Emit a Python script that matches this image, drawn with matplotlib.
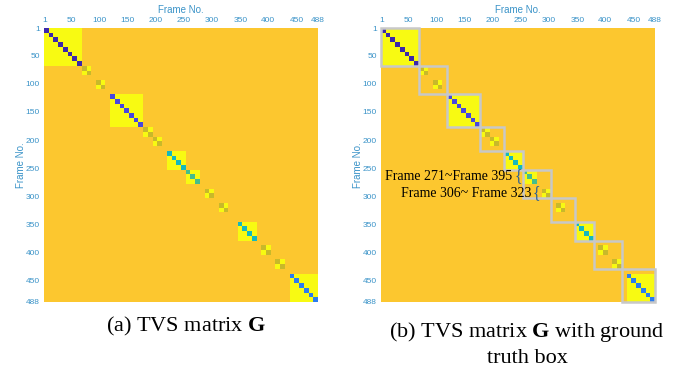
import numpy as np
import matplotlib
matplotlib.use("Agg")
import matplotlib.pyplot as plt
from matplotlib.colors import LinearSegmentedColormap
from matplotlib.patches import Rectangle

# TVS matrix, described in shot units (58 shots over 488 frames)
n_frames = 488
n_shots = 58

# blocks of similar shots: first shot, number of shots, value on the diagonal
block_start = [0, 14, 26, 30, 41, 52]
block_len = [8, 7, 4, 3, 4, 6]
block_diag = [0.0, 0.1, 0.45, 0.55, 0.45, 0.25]

# 2x2 checker blocks
checker_start = [8, 11, 21, 23, 34, 37, 46, 49]
checker_diag = 0.75

background = 0.87
offdiag = 1.0

# ground truth boxes, edges in shot units
gt_edges = [0, 8, 14, 21, 26, 30, 36, 41, 45, 51, 58]

ticks = [1, 50, 100, 150, 200, 250, 300, 350, 400, 450, 488]

# colours (parula-like)
cmap = LinearSegmentedColormap.from_list("tvs", [
    (0.00, "#3c28aa"),
    (0.10, "#4848e0"),
    (0.25, "#2d7df0"),
    (0.45, "#14b9be"),
    (0.55, "#46be8c"),
    (0.75, "#c8b92a"),
    (0.87, "#fdc830"),
    (1.00, "#f8fa12"),
], N=1024)

M = np.full((n_shots, n_shots), background)
for s, n, d in zip(block_start, block_len, block_diag):
    M[s:s + n, s:s + n] = offdiag
    for k in range(s, s + n):
        M[k, k] = d
for s in checker_start:
    M[s:s + 2, s:s + 2] = offdiag
    M[s, s] = checker_diag
    M[s + 1, s + 1] = checker_diag

seg = n_frames / n_shots
tick_col = "#3a93c8"

fig = plt.figure(figsize=(6.78, 3.72), dpi=100)
W, H = 678, 372
ax1 = fig.add_axes([44 / W, 70 / H, 274 / W, 274 / H])
ax2 = fig.add_axes([381 / W, 70 / H, 274 / W, 274 / H])

for ax in (ax1, ax2):
    ax.imshow(M, cmap=cmap, vmin=0, vmax=1, interpolation="nearest",
              extent=[0.5, n_frames + 0.5, n_frames + 0.5, 0.5], aspect="auto")
    ax.set_xlim(0.5, n_frames + 0.5)
    ax.set_ylim(n_frames + 0.5, 0.5)
    ax.set_xticks(ticks)
    ax.set_yticks(ticks)
    ax.xaxis.tick_top()
    ax.xaxis.set_label_position("top")
    ax.tick_params(length=0, labelsize=6, labelcolor=tick_col, pad=3,
                   labelfontfamily="Liberation Sans")
    ax.set_xlabel("Frame No.", fontsize=7, color=tick_col, labelpad=3,
                  family="Liberation Sans")
    ax.set_ylabel("Frame No.", fontsize=7, color=tick_col, labelpad=0,
                  family="Liberation Sans")
    for sp in ax.spines.values():
        sp.set_visible(False)

# ground truth boxes
for a, b in zip(gt_edges[:-1], gt_edges[1:]):
    x0 = 0.5 + a * seg
    w = (b - a) * seg
    ax2.add_patch(Rectangle((x0, x0), w, w, fill=False, ec="#c8c8c8",
                            lw=1.8, clip_on=False))

ax2.text(234, 265, "Frame 271~Frame 395", ha="right", va="center",
         fontsize=10, family="Liberation Serif", color="black")
ax2.text(245, 264, "{", ha="center", va="center", fontsize=11.5,
         family="Liberation Serif", color="#2a5f95")
ax2.text(268, 295, "Frame 306~ Frame 323", ha="right", va="center",
         fontsize=10, family="Liberation Serif", color="black")
ax2.text(278, 294, "{", ha="center", va="center", fontsize=11.5,
         family="Liberation Serif", color="#2a5f95")

plt.rcParams["mathtext.fontset"] = "custom"
plt.rcParams["mathtext.rm"] = "Liberation Serif"
plt.rcParams["mathtext.bf"] = "Liberation Serif:bold"

fig.text(186 / W, 1 - 331 / H, r"(a) TVS matrix $\mathbf{G}$", ha="center",
         va="baseline", fontsize=16, family="Liberation Serif")
fig.text(527 / W, 1 - 337 / H, r"(b) TVS matrix $\mathbf{G}$ with ground",
         ha="center", va="baseline", fontsize=16, family="Liberation Serif")
fig.text(527 / W, 1 - 363 / H, "truth box", ha="center", va="baseline",
         fontsize=16, family="Liberation Serif")

fig.savefig("out.png", dpi=100)
